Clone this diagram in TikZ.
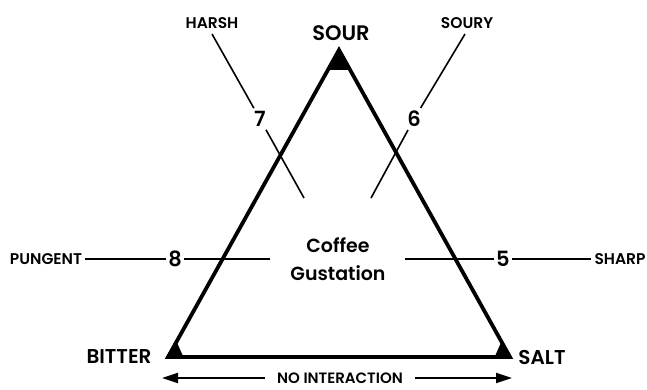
\documentclass[tikz,border=0pt]{standalone}
\usepackage{fontspec}
\setmainfont{Poppins}[BoldFont={Poppins SemiBold}]
\usetikzlibrary{arrows.meta,calc}

\begin{document}
\begin{tikzpicture}[x=1pt,y=-1pt,
  side/.style={line width=3.8pt,line join=miter},
  tick/.style={line width=1.6pt},
  taste/.style={font=\bfseries\fontsize{20}{20}\selectfont,inner sep=0pt},
  term/.style={font=\bfseries\fontsize{15.5}{15.5}\selectfont,inner sep=3pt},
  num/.style={font=\bfseries\fontsize{21}{21}\selectfont,inner xsep=2pt,inner ysep=3pt}]
\useasboundingbox (0,0) rectangle (647,390);

% corners of the triangle
\coordinate (top) at (339,50);
\coordinate (bl) at (168,357);
\coordinate (br) at (510,357);

\draw[side] (bl) -- (top) -- (br) -- cycle;
\fill (top) -- ($(top)!0.065!(bl)$) -- ($(top)!0.065!(br)$) -- cycle;
\fill (bl) -- ($(bl)!0.05!(top)$) -- ($(bl)!0.045!(br)$) -- cycle;
\fill (br) -- ($(br)!0.05!(top)$) -- ($(br)!0.045!(bl)$) -- cycle;

\node[taste,font=\bfseries\fontsize{21}{21}\selectfont] (sour) at (341,33) {SOUR};
\node[taste] (bitter) at (119,357) {BITTER};
\node[taste] (salt) at (542,357) {SALT};

\node[font=\bfseries\fontsize{19}{28}\selectfont,align=center] (coffee) at (338,259) {Coffee\\Gustation};

% outer terms and their numbers
\node[term] (harsh) at (212,23) {HARSH};
\node[term] (soury) at (467,23) {SOURY};
\node[term] (pungent) at (46,259) {PUNGENT};
\node[term] (sharp) at (620,259) {SHARP};

\node[num] (n7) at (260,119) {7};
\node[num] (n6) at (414,119) {6};
\node[num] (n8) at (175,259) {8};
\node[num] (n5) at (503,259) {5};

\coordinate (h1) at (212,34);
\coordinate (h2) at (304,198);
\coordinate (s1) at (465,34);
\coordinate (s2) at (371,198);
\coordinate (p2) at (270,259);
\coordinate (q1) at (405,259);

\draw[tick] (h1) -- (n7) (n7) -- (h2);
\draw[tick] (s1) -- (n6) (n6) -- (s2);
\draw[tick] (pungent) -- (n8) (n8) -- (p2);
\draw[tick] (q1) -- (n5) (n5) -- (sharp);

% bottom arrow
\node[term,font=\bfseries\fontsize{15}{15}\selectfont,inner xsep=12pt,inner ysep=0pt] (nointer) at (340,378) {NO INTERACTION};
\coordinate (al) at (162,378);
\coordinate (ar) at (512,378);
\draw[line width=2.2pt,-{Stealth[length=16pt,width=10pt,inset=0pt]}] (nointer) -- (al);
\draw[line width=2.2pt,-{Stealth[length=16pt,width=10pt,inset=0pt]}] (nointer) -- (ar);
\end{tikzpicture}
\end{document}
